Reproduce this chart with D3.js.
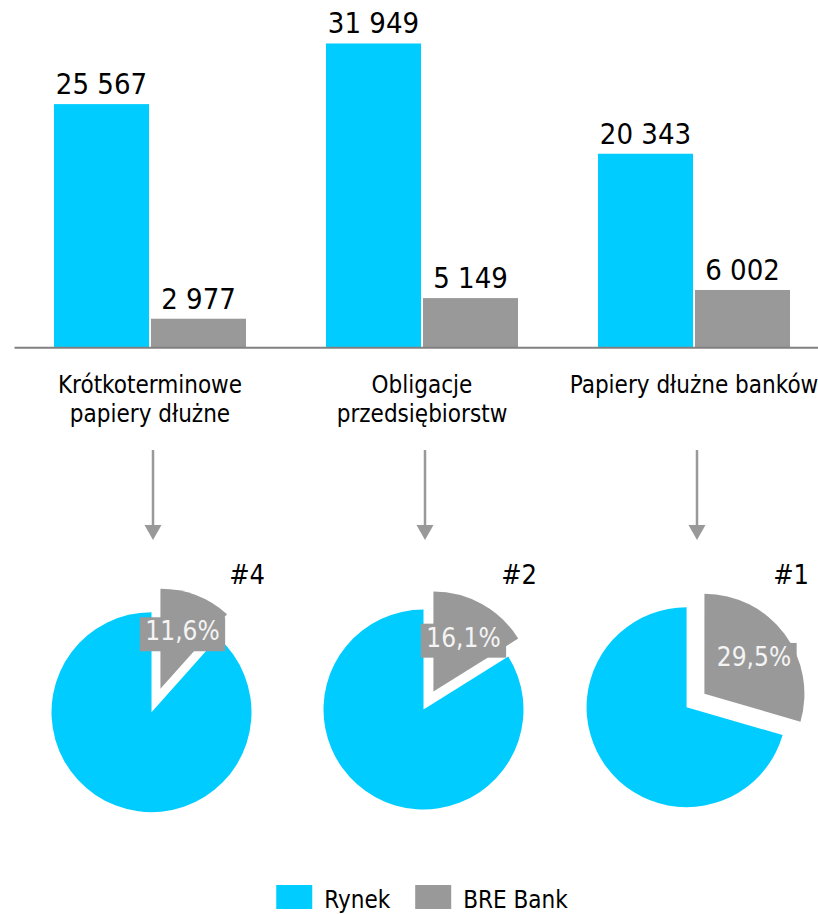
<!DOCTYPE html>
<html>
<head>
<meta charset="utf-8">
<script src="https://cdn.jsdelivr.net/npm/d3@7"></script>
<style>
  html, body { margin: 0; padding: 0; background: #fff; }
  svg { display: block; font-family: "DejaVu Sans Condensed", "DejaVu Sans", sans-serif; font-stretch: condensed; }
</style>
</head>
<body>
<svg id="chart" width="818" height="914"></svg>
<script>
// ---- data ----
const categories = ["Krótkoterminowe papiery dłużne", "Obligacje przedsiębiorstw", "Papiery dłużne banków"];
const categoryLines = [["Krótkoterminowe", "papiery dłużne"], ["Obligacje", "przedsiębiorstw"], ["Papiery dłużne banków"]];
const series = ["Rynek", "BRE Bank"];
const rynek = [25567, 31949, 20343];
const breBank = [2977, 5149, 6002];
const sharePct = [11.6, 16.1, 29.5];   // BRE Bank share of the market, %
const ranks = ["#4", "#2", "#1"];

// ---- look ----
const BLUE = "#00CCFF", GREY = "#999999";
const explodeBy = [25, 20.5, 22.3];   // distance the BRE slice is pulled out of each pie
const pieRadius = 100;

const svg = d3.select("#chart");
const plLocale = d3.formatLocale({ decimal: ",", thousands: " ", grouping: [3], currency: ["", ""] });
const fmtInt = plLocale.format(",d");
const fmtPct = v => plLocale.format(".1f")(v) + "%";

// ---- scales ----
const x = d3.scaleBand().domain(categories).range([14, 830]).paddingInner(0.294).paddingOuter(0.147);
const xs = d3.scaleBand().domain(series).range([0, x.bandwidth()]).paddingInner(0.02);
const y = d3.scaleLinear().domain([0, 32000]).range([347, 43]);
const color = d3.scaleOrdinal().domain(series).range([BLUE, GREY]);
const mid = c => x(c) + x.bandwidth() / 2;

// ---- grouped bars ----
const rows = categories.map((c, i) => ({
  cat: c,
  values: [{ s: series[0], v: rynek[i] }, { s: series[1], v: breBank[i] }]
}));

const groups = svg.append("g").selectAll("g").data(rows).join("g")
  .attr("transform", d => `translate(${x(d.cat)},0)`);

groups.selectAll("rect").data(d => d.values).join("rect")
  .attr("x", d => xs(d.s))
  .attr("y", d => y(d.v))
  .attr("width", xs.bandwidth())
  .attr("height", d => y(0) - y(d.v))
  .attr("fill", d => color(d.s));

groups.selectAll("text").data(d => d.values).join("text")
  .attr("x", d => xs(d.s) + xs.bandwidth() / 2)
  .attr("y", d => y(d.v) - 10)
  .attr("text-anchor", "middle")
  .attr("font-size", 29)
  .attr("fill", "#000")
  .text(d => fmtInt(d.v));

// baseline
const axis = svg.append("g")
  .attr("transform", `translate(0,${y(0) + 0.2})`)
  .call(d3.axisBottom(x).tickSize(0).tickSizeOuter(0).tickFormat(() => ""));
axis.select(".domain").attr("stroke", "#808080").attr("stroke-width", 2);
axis.selectAll(".tick").remove();

// category labels
svg.append("g").selectAll("text").data(categories).join("text")
  .attr("x", c => mid(c))
  .attr("y", 393)
  .attr("text-anchor", "middle")
  .attr("font-size", 24)
  .attr("fill", "#000")
  .selectAll("tspan").data((c, i) => categoryLines[i]).join("tspan")
  .attr("x", function () { return d3.select(this.parentNode).attr("x"); })
  .attr("dy", (d, j) => j === 0 ? 0 : 28.5)
  .text(d => d);

// arrows
const arrows = svg.append("g").attr("fill", GREY).attr("stroke", GREY);
categories.forEach(c => {
  const ax = mid(c) + 3, top = 450, tip = 540, head = 15;
  arrows.append("line").attr("x1", ax).attr("x2", ax).attr("y1", top).attr("y2", tip - head + 1)
    .attr("stroke-width", 2.5);
  arrows.append("path").attr("stroke", "none")
    .attr("d", `M${ax - 8.5},${tip - head}L${ax + 8.5},${tip - head}L${ax},${tip}Z`);
});

// ---- exploded pies ----
const pie = d3.pie().sort(null).value(d => d.v);
const arc = d3.arc().innerRadius(0).outerRadius(pieRadius);
const labelArc = d3.arc().innerRadius(pieRadius * 0.62).outerRadius(pieRadius * 0.62);

categories.forEach((c, i) => {
  const slices = pie([{ s: series[1], v: sharePct[i] }, { s: series[0], v: 100 - sharePct[i] }]);
  slices.forEach(sl => {
    const m = (sl.startAngle + sl.endAngle) / 2;
    const d = sl.data.s === series[1] ? explodeBy[i] : 0;
    sl.ox = d * Math.sin(m);
    sl.oy = -d * Math.cos(m);
  });
  // centre the exploded shape's bounding box in its cell
  let x0 = Infinity, x1 = -Infinity, y0 = Infinity, y1 = -Infinity;
  slices.forEach(sl => {
    const pts = [[sl.ox, sl.oy]];
    for (let k = 0; k <= 120; k++) {
      const a = sl.startAngle + (sl.endAngle - sl.startAngle) * k / 120;
      pts.push([sl.ox + pieRadius * Math.sin(a), sl.oy - pieRadius * Math.cos(a)]);
    }
    pts.forEach(([px, py]) => { x0 = Math.min(x0, px); x1 = Math.max(x1, px); y0 = Math.min(y0, py); y1 = Math.max(y1, py); });
  });
  const cx = mid(c) + 1.5 - (x0 + x1) / 2;
  const cy = 700.5 - (y0 + y1) / 2;

  const g = svg.append("g").attr("transform", `translate(${cx},${cy})`);
  g.selectAll("path").data(slices).join("path")
    .attr("transform", sl => `translate(${sl.ox},${sl.oy})`)
    .attr("d", arc)
    .attr("fill", sl => color(sl.data.s));

  // share label on the BRE slice
  const sl = slices[0];
  const [lx, ly] = labelArc.centroid(sl);
  const lg = g.append("g").attr("transform", `translate(${sl.ox + lx},${sl.oy + ly})`);
  const t = lg.append("text")
    .attr("text-anchor", "middle")
    .attr("dy", "0.36em")
    .attr("font-size", 26)
    .attr("fill", "#f4f4f4")
    .text(fmtPct(sl.data.v));
  const bb = t.node().getBBox();
  lg.insert("rect", "text")
    .attr("x", bb.x - 5.5).attr("y", bb.y + 1)
    .attr("width", bb.width + 11).attr("height", bb.height + 4)
    .attr("fill", GREY);

  // rank
  svg.append("text")
    .attr("x", mid(c) + 115)
    .attr("y", 584)
    .attr("text-anchor", "end")
    .attr("font-size", 27)
    .attr("fill", "#000")
    .text(ranks[i]);
});

// ---- legend ----
const legend = svg.append("g").attr("font-size", 24);
const items = series.map(s => {
  const gi = legend.append("g");
  gi.append("rect").attr("width", 36).attr("height", 24).attr("y", 885).attr("fill", color(s));
  const tx = gi.append("text").attr("x", 48).attr("y", 908).attr("fill", "#000").text(s);
  return { g: gi, w: 48 + tx.node().getComputedTextLength() };
});
const gap = 25;
const total = d3.sum(items, d => d.w) + gap * (items.length - 1);
let lx = mid(categories[1]) - total / 2;
items.forEach(it => { it.g.attr("transform", `translate(${lx},0)`); lx += it.w + gap; });
</script>
</body>
</html>
